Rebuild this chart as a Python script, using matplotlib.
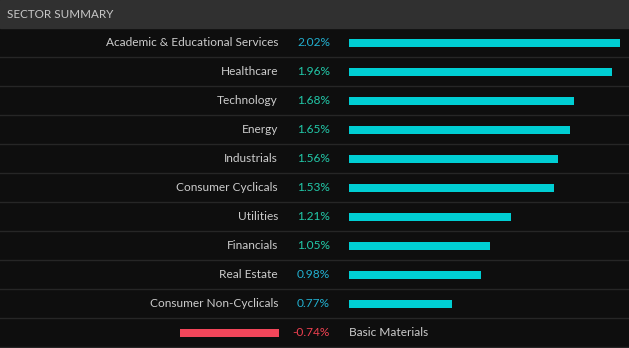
import matplotlib.pyplot as plt
from matplotlib.patches import Rectangle
from matplotlib.transforms import blended_transform_factory

sectors = [
    "Academic & Educational Services", "Healthcare", "Technology", "Energy",
    "Industrials", "Consumer Cyclicals", "Utilities", "Financials",
    "Real Estate", "Consumer Non-Cyclicals", "Basic Materials",
]
changes = [2.02, 1.96, 1.68, 1.65, 1.56, 1.53, 1.21, 1.05, 0.98, 0.77, -0.74]

BG = "#0e0e0e"
HEADER = "#303030"
GRID = "#262626"
UP = "#00ced3"
DOWN = "#f2465a"
UP_TEXT_HI = "#22c8a8"
UP_TEXT_LO = "#22b0d0"
DOWN_TEXT = "#ee4050"
LABEL = "#cccccc"

plt.rcParams['font.family'] = ['Lato', 'DejaVu Sans']

W, H = 629, 348
HEAD_H = 28
ROW_H = 29
PX_PER_PCT = 134.2
BAR_X0 = 349      # where positive bars start
NEG_X0 = 279      # where negative bars start (growing left)
FS = 8.6

fig = plt.figure(figsize=(W / 100, H / 100), dpi=100)
fig.patch.set_facecolor(BG)

n = len(sectors)
rows_h = n * ROW_H
bottom = (H - HEAD_H - rows_h) / H

# header strip
fig.patches.append(Rectangle((0, 1 - HEAD_H / H), 1, HEAD_H / H,
                             transform=fig.transFigure, color=HEADER, zorder=0))
fig.text(7 / W, 1 - (HEAD_H / 2) / H, "SECTOR SUMMARY", color="#c8c8c8",
         fontsize=8.4, va="center", ha="left")

# axes for positive bars
ax = fig.add_axes([BAR_X0 / W, bottom, (W - BAR_X0) / W, rows_h / H])
ax.set_xlim(0, (W - BAR_X0) / PX_PER_PCT)
ax.set_ylim(n - 0.5, -0.5)
ax.axis("off")

# axes for negative bars
axn = fig.add_axes([0, bottom, NEG_X0 / W, rows_h / H])
axn.set_xlim(-NEG_X0 / PX_PER_PCT, 0)
axn.set_ylim(n - 0.5, -0.5)
axn.axis("off")

pos = [(i, v) for i, v in enumerate(changes) if v >= 0]
neg = [(i, v) for i, v in enumerate(changes) if v < 0]
ax.barh([i for i, _ in pos], [v for _, v in pos], height=8 / ROW_H, color=UP)
axn.barh([i for i, _ in neg], [v for _, v in neg], height=8 / ROW_H, color=DOWN)

tr = blended_transform_factory(fig.transFigure, ax.transData)
for i, (name, v) in enumerate(zip(sectors, changes)):
    if v >= 0:
        col = UP_TEXT_HI if 1 <= v < 2 else UP_TEXT_LO
        fig.text(278 / W, i, name, transform=tr, color=LABEL, fontsize=FS,
                 ha="right", va="center")
    else:
        col = DOWN_TEXT
        fig.text(349 / W, i, name, transform=tr, color=LABEL, fontsize=FS,
                 ha="left", va="center")
    fig.text(330 / W, i, f"{v:.2f}%", transform=tr, color=col, fontsize=FS,
             ha="right", va="center")
    # row separator
    fig.lines.append(plt.Line2D([0, 1], [i + 0.5, i + 0.5], transform=tr,
                                color=GRID, lw=1))

fig.savefig("out.png", dpi=100, facecolor=BG)
